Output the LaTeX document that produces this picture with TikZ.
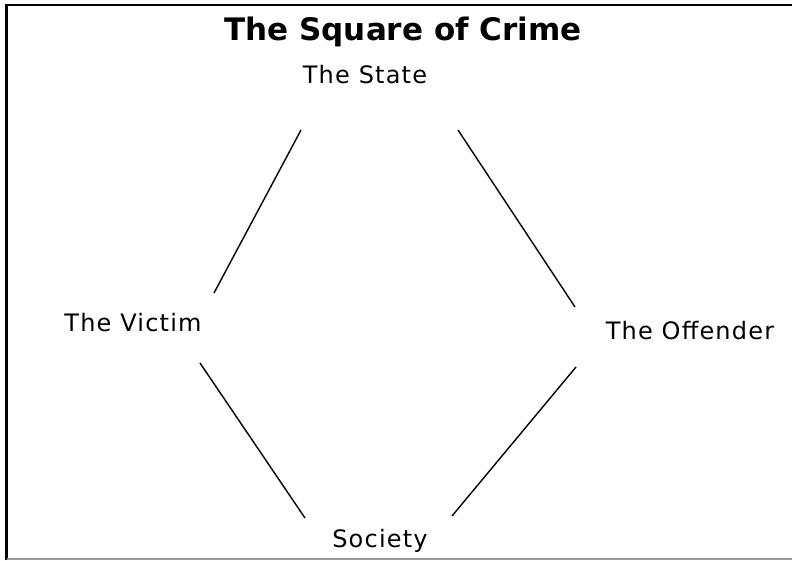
\documentclass[tikz,border=0pt]{standalone}
\usepackage{fontspec}
\setmainfont{DejaVu Sans}
\begin{document}
\begin{tikzpicture}[x=1pt,y=-1pt,
  lbl/.style={inner sep=0pt,font=\fontsize{24}{28}\selectfont\addfontfeatures{LetterSpace=5}},
  ttl/.style={inner sep=0pt,font=\fontsize{31}{36}\selectfont\bfseries},
  edge/.style={line width=1.4pt,black}]
\useasboundingbox (0,0) rectangle (792,560);
\fill[white] (0,0) rectangle (792,560);
\draw[line width=2.5pt] (6.5,560) -- (6.5,5) -- (792,5);
\draw[line width=1.5pt,gray!80] (6.5,559) -- (792,559);
\node[ttl] (title) at (403,32) {The Square of Crime};
\node[lbl] (state) at (365,75) {The State};
\node[lbl] (victim) at (133,323) {The Victim};
\node[lbl] (offender) at (690,331) {The Offender};
\node[lbl] (society) at (380,541) {Society};
\coordinate (s1) at (301,130); \coordinate (v1) at (214,293);
\coordinate (s2) at (458,130); \coordinate (o1) at (575,307);
\coordinate (v2) at (200,363); \coordinate (c1) at (305,518);
\coordinate (o2) at (576,367); \coordinate (c2) at (452,516);
\draw[edge] (s1) -- (v1);
\draw[edge] (s2) -- (o1);
\draw[edge] (v2) -- (c1);
\draw[edge] (o2) -- (c2);
\end{tikzpicture}
\end{document}
